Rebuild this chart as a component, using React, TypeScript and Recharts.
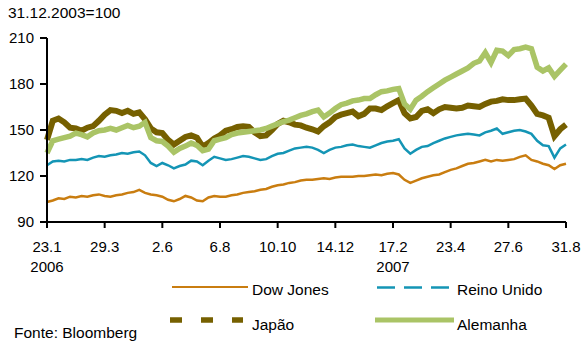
import React from 'react';
import { LineChart, Line, XAxis, YAxis } from 'recharts';

// x axis: one step = 6.5 calendar days, 23.1.2006 .. 31.8.2007
const dateLabels = ['23.1', '29.3', '2.6', '6.8', '10.10', '14.12', '17.2', '23.4', '27.6', '31.8'];
const yearLabels: Record<number, string> = { 0: '2006', 6: '2007' };
const yTicks = [90, 120, 150, 180, 210];

// indices, 31.12.2003 = 100
const dowJones = [
  103, 104, 105.5, 105, 106.5, 106, 107, 106.5, 107.5, 108,
  107, 106.5, 107.5, 108, 109, 109.5, 111, 109, 108, 107.5,
  106.5, 104.5, 103.5, 105, 107, 106, 104, 103.5, 106, 107,
  106.5, 106.5, 107.5, 108, 109, 109.5, 110, 111, 111.5, 113,
  114, 114.5, 115.5, 116, 117, 117.5, 117.5, 118, 118.5, 118,
  119, 119.5, 119.5, 119.5, 120, 120, 120.5, 121, 120.5, 121.5,
  122, 121, 117.5, 115.5, 117, 118.5, 119.5, 120.5, 121, 122.5,
  124, 125, 126.5, 128, 128.5, 129.5, 130.5, 129.5, 130.5, 130,
  130.5, 131, 132.5, 133.5, 130.5, 129.5, 128, 127, 124.5, 127, 128,
];

const reinoUnido = [
  127, 129.5, 130, 129.5, 130.5, 130.5, 131, 130.5, 132, 133,
  132.5, 133.5, 134, 135, 134.5, 135.5, 136, 133.5, 128.5, 126.5,
  128.5, 127, 125, 126.5, 127.5, 130, 129.5, 127, 130, 132.5,
  131.5, 130.5, 131, 132, 133, 132.5, 131.5, 130.5, 131, 133,
  134.5, 135, 136.5, 138, 138.5, 139, 138.5, 137, 135, 137,
  138.5, 139, 140, 140.5, 139.5, 139, 138.5, 140, 141.5, 142.5,
  143, 144, 138, 134.5, 137, 139, 139.5, 141.5, 143, 144.5,
  145.5, 146.5, 147, 147.5, 147, 146.5, 148.5, 149.5, 151, 147.5,
  148.5, 149.5, 150, 149, 147.5, 143, 140, 139.5, 132, 138, 140.5,
];

const japao = [
  143.5, 156, 157.5, 155, 151.5, 151, 149.5, 151.5, 152.5, 156,
  160, 163, 162.5, 161, 162.5, 160.5, 161.5, 157, 151, 148.5,
  148, 143.5, 140.5, 143, 145.5, 146.5, 145, 139, 141.5, 144.5,
  146.5, 149.5, 150.5, 152, 152.5, 152, 148.5, 146, 146.5, 150,
  154, 156, 155, 153.5, 153, 151.5, 150.5, 149, 152.5, 155,
  158.5, 160, 161, 162, 159, 160.5, 164, 164, 163, 165.5,
  167.5, 169.5, 161, 157.5, 158.5, 162.5, 163.5, 161, 163.5, 165,
  164.5, 164, 164.5, 166, 165.5, 165, 167, 168.5, 169, 170,
  169.5, 169.5, 170, 170.5, 166, 160.5, 159.5, 158, 146, 150.5, 153.5,
];

const alemanha = [
  135, 143, 144, 145, 146, 148, 147, 145.5, 148, 149.5,
  150, 151, 150, 151.5, 153, 151.5, 152.5, 155, 145, 143,
  142.5, 139.5, 135.5, 138, 139.5, 141.5, 140, 136.5, 137.5, 143,
  144, 145, 147, 148, 148.5, 149, 149.5, 150, 151, 152.5,
  154, 155.5, 156.5, 158, 159.5, 160.5, 162, 163, 158.5, 161,
  164, 166.5, 167.5, 169, 169.5, 170.5, 170.5, 173, 175, 175.5,
  176.5, 177, 167, 163.5, 169.5, 172, 175, 177.5, 180, 182.5,
  184.5, 186.5, 188.5, 190.5, 193.5, 195, 200.5, 194, 202, 201.5,
  198.5, 202.5, 203, 204, 203, 191, 188.5, 190.5, 185, 189, 193,
];

const data = dowJones.map((v, i) => ({
  i,
  dow: v,
  uk: reinoUnido[i],
  jp: japao[i],
  de: alemanha[i],
}));

const FONT = '"Liberation Sans", Arial, sans-serif';
const COLORS = {
  dow: '#C97D10',
  uk: '#1495B5',
  jp: '#766000',
  de: '#AAC466',
};

const DateTick = ({ x, y, payload }: any) => {
  const idx = Math.round(payload.value / 10);
  const year = yearLabels[idx];
  return (
    <g>
      <text x={x} y={y + 22} textAnchor="middle" fontSize={15} fontFamily={FONT} fill="#000">
        {dateLabels[idx]}
      </text>
      {year && (
        <text x={x} y={y + 42} textAnchor="middle" fontSize={15} fontFamily={FONT} fill="#000">
          {year}
        </text>
      )}
    </g>
  );
};

const App: React.FC = () => {
  return (
    <div style={{ position: 'absolute', left: 0, top: 0, width: 581, height: 342, background: '#fff' }}>
      <LineChart
        width={581}
        height={342}
        data={data}
        margin={{ top: 38, right: 15, left: 0, bottom: 0 }}
      >
        <XAxis
          dataKey="i"
          type="number"
          domain={[0, 90]}
          ticks={[0, 10, 20, 30, 40, 50, 60, 70, 80, 90]}
          height={120}
          axisLine={{ stroke: '#000', strokeWidth: 2 }}
          tickLine={{ stroke: '#000', strokeWidth: 2 }}
          tickSize={6}
          tickMargin={2}
          tick={<DateTick />}
        />
        <YAxis
          domain={[90, 210]}
          ticks={yTicks}
          width={47}
          interval={0}
          axisLine={{ stroke: '#000', strokeWidth: 2 }}
          tickLine={{ stroke: '#000', strokeWidth: 2 }}
          tickSize={7}
          tickMargin={6}
          tick={{ fontSize: 15, fontFamily: FONT, fill: '#000' }}
        />
        <Line type="linear" dataKey="dow" stroke={COLORS.dow} strokeWidth={2.5} dot={false} isAnimationActive={false} />
        <Line type="linear" dataKey="uk" stroke={COLORS.uk} strokeWidth={2.5} dot={false} isAnimationActive={false} />
        <Line type="linear" dataKey="jp" stroke={COLORS.jp} strokeWidth={6} dot={false} isAnimationActive={false} />
        <Line type="linear" dataKey="de" stroke={COLORS.de} strokeWidth={5.5} dot={false} isAnimationActive={false} />
      </LineChart>

      {/* caption, legend and source */}
      <svg
        width={581}
        height={342}
        style={{ position: 'absolute', left: 0, top: 0, pointerEvents: 'none' }}
        fontFamily={FONT}
        fontSize={15.5}
      >
        <text x={8} y={18} fill="#000">31.12.2003=100</text>

        <line x1={172} y1={287} x2={248} y2={287} stroke={COLORS.dow} strokeWidth={2} />
        <text x={252} y={294.5} fill="#000">Dow Jones</text>

        <line x1={377} y1={287.5} x2={450} y2={287.5} stroke={COLORS.uk} strokeWidth={2.5} strokeDasharray="18 9" />
        <text x={457} y={294.5} fill="#000">Reino Unido</text>

        <line x1={170} y1={320} x2={243} y2={320} stroke={COLORS.jp} strokeWidth={5.5} strokeDasharray="12 19" />
        <text x={252} y={329.5} fill="#000">Japão</text>

        <line x1={375} y1={320} x2={454} y2={320} stroke={COLORS.de} strokeWidth={5} />
        <text x={457} y={329.5} fill="#000">Alemanha</text>

        <text x={14} y={337.5} fill="#000">Fonte: Bloomberg</text>
      </svg>
    </div>
  );
};

export default App;
